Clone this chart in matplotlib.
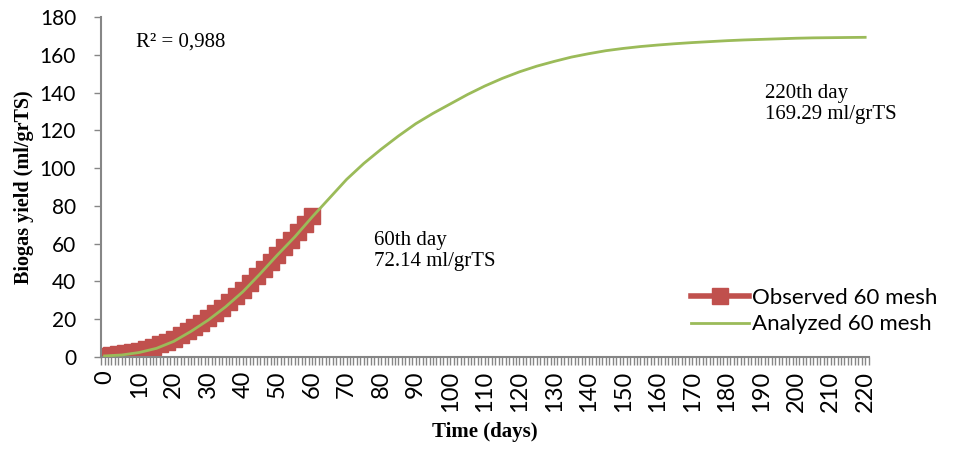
import matplotlib.pyplot as plt
from matplotlib.ticker import MultipleLocator

# observed data (every 2 days, 0..60)
obs_days = list(range(0, 61, 2))
obs_yield = [0.5, 1.0, 1.5, 2.0, 2.6, 3.3, 4.2, 5.3, 6.6, 8.0, 9.6, 11.5, 13.5,
             15.7, 18.0, 20.5, 23.2, 26.0, 29.0, 32.2, 35.5, 39.0, 42.7, 46.5,
             50.3, 54.2, 58.0, 62.0, 66.0, 70.2, 74.5]

# analyzed (model) curve, every 5 days
fit_days = list(range(0, 221, 5))
fit_yield = [0.5, 1.0, 2.3, 4.5, 8.2, 13.5, 19.5, 26.5, 34.5, 44.0, 54.0, 63.5,
             74.0, 84.0, 94.0, 102.5, 110.0, 117.0, 123.5, 129.0, 134.0, 139.0,
             143.5, 147.5, 151.0, 154.0, 156.5, 158.8, 160.6, 162.2, 163.4,
             164.4, 165.2, 165.9, 166.5, 167.0, 167.5, 167.9, 168.2, 168.5,
             168.8, 169.0, 169.1, 169.2, 169.29]

x_ticks = list(range(0, 221, 10))

red = '#C0504D'
green = '#9BBB59'
grey = '#868686'
serif = 'Liberation Serif'

fig = plt.figure(figsize=(9.63, 4.5), dpi=100)
ax = fig.add_axes([0.105, 0.207, 0.797, 0.755])

ax.plot(obs_days, obs_yield, color=red, lw=4, marker='s', ms=12,
        mec=red, mfc=red, label='Observed 60 mesh', zorder=2)
ax.plot(fit_days, fit_yield, color=green, lw=2, label='Analyzed 60 mesh', zorder=3)

ax.set_xlim(-1, 221)
ax.set_ylim(0, 180)
ax.set_xticks(x_ticks)
ax.set_xticklabels([str(v) for v in x_ticks], rotation=90)
ax.xaxis.set_minor_locator(MultipleLocator(1))
ax.yaxis.set_major_locator(MultipleLocator(20))

for s in ['top', 'right']:
    ax.spines[s].set_visible(False)
for s in ['left', 'bottom']:
    ax.spines[s].set_color(grey)
    ax.spines[s].set_linewidth(1.5)

ax.tick_params(axis='x', which='both', direction='out', color=grey, length=6,
               width=1, labelsize=17, pad=4)
ax.tick_params(axis='y', which='major', direction='out', color=grey, length=5,
               width=1, labelsize=15, pad=13)
for lab in ax.get_xticklabels() + ax.get_yticklabels():
    lab.set_fontfamily('Lato')

ax.set_xlabel('Time (days)', fontfamily=serif, fontweight='bold', fontsize=15, labelpad=7)
ax.set_ylabel('Biogas yield (ml/grTS)', fontfamily=serif, fontweight='bold', fontsize=14.5, labelpad=4)

ax.text(0.045, 0.955, 'R² = 0,988', transform=ax.transAxes, fontfamily=serif,
        fontsize=15, va='top', ha='left')
ax.text(78, 56, '60th day\n72.14 ml/grTS', fontfamily=serif, fontsize=15,
        va='center', ha='left', linespacing=1.15)
ax.text(191, 134, '220th day\n169.29 ml/grTS', fontfamily=serif, fontsize=15,
        va='center', ha='left', linespacing=1.15)

leg = ax.legend(loc='lower left', bbox_to_anchor=(0.757, 0.04), frameon=False,
                prop={'family': 'Lato', 'size': 16}, handlelength=2.6,
                handletextpad=0.15, borderaxespad=0, labelspacing=0.3)

fig.savefig('out.png', dpi=100)
